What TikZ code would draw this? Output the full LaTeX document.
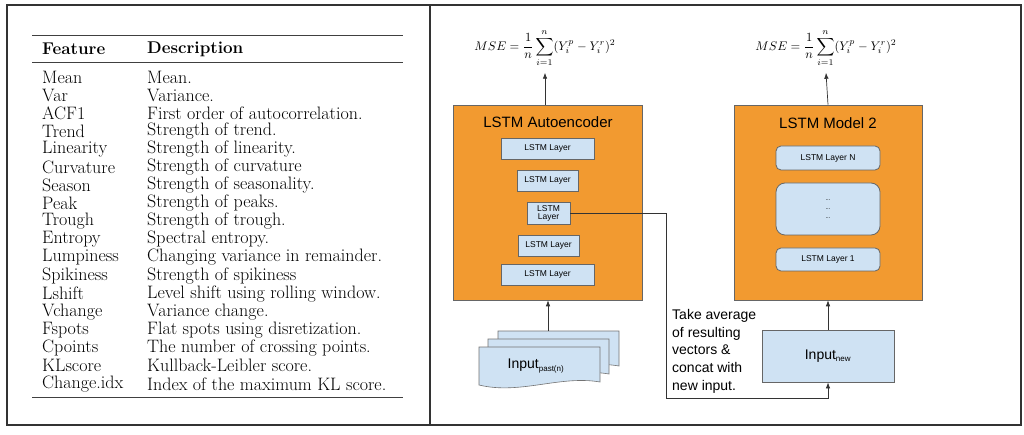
\documentclass[tikz,border=0pt]{standalone}
\usepackage{fontspec}
\newfontfamily\arial{Liberation Sans}
\usetikzlibrary{arrows.meta}
\definecolor{org}{HTML}{F29A30}
\definecolor{lb}{HTML}{CFE2F3}
\begin{document}
\begin{tikzpicture}[x=1pt,y=-1pt,
 frame/.style={draw=black!80,line width=1.2pt},
 rule/.style={draw=black!75,line width=0.9pt},
 cell/.style={anchor=west,inner sep=0pt,font=\fontsize{18}{18}\selectfont},
 obox/.style={draw=black!60,fill=org,line width=0.6pt},
 lay/.style={draw=black!60,fill=lb,line width=0.8pt,font=\arial\fontsize{8.5}{9.5}\selectfont,align=center,inner sep=0pt},
 ttl/.style={font=\arial\fontsize{15}{16}\selectfont},
 arr/.style={-{Latex[length=6pt,width=4.5pt]},draw=black!80,line width=0.7pt}]
\useasboundingbox (0,0) rectangle (1024,435);
\fill[white] (0,0) rectangle (1024,435);
\draw[frame] (7,5) rectangle (430,425);
\draw[frame] (430,5) rectangle (1021,425);
% table
\draw[rule] (32,35) -- (403,35);
\draw[rule] (32,62) -- (403,62);
\draw[rule] (32,397) -- (403,397);
\node[cell,font=\fontsize{17}{17}\selectfont] (h1) at (42,49) {\bfseries Feature};
\node[cell,font=\fontsize{17}{17}\selectfont] (h2) at (147,49) {\bfseries Description};
\foreach \f/\d [count=\i from 0] in {Mean/Mean., Var/Variance., ACF1/First order of autocorrelation., Trend/Strength of trend., Linearity/Strength of linearity., Curvature/Strength of curvature, Season/Strength of seasonality., Peak/Strength of peaks., Trough/Strength of trough., Entropy/Spectral entropy., Lumpiness/Changing variance in remainder., Spikiness/Strength of spikiness, Lshift/Level shift using rolling window., Vchange/Variance change., Fspots/Flat spots using disretization., Cpoints/The number of crossing points., KLscore/Kullback-Leibler score., Change.idx/Index of the maximum KL score.}{
 \node[cell] (f\i) at (42,{77+18.05*\i}) {\f};
 \node[cell] (d\i) at (147,{77+18.05*\i}) {\d};
}
% right panel
\node[scale=1.25] (mse1) at (545,48) {$\displaystyle MSE=\frac{1}{n}\sum_{i=1}^{n}(Y_i^p-Y_i^r)^2$};
\node[scale=1.25] (mse2) at (826,48) {$\displaystyle MSE=\frac{1}{n}\sum_{i=1}^{n}(Y_i^p-Y_i^r)^2$};
\node[obox,minimum width=189pt,minimum height=195pt,inner sep=0pt] (ae) at (547.5,202.5) {};
\node[obox,minimum width=188pt,minimum height=195pt,inner sep=0pt] (m2) at (828,202.5) {};
\node[ttl] (t1) at (548,122) {LSTM Autoencoder};
\node[ttl] (t2) at (828,123) {LSTM Model 2};
\node[lay,minimum width=93pt,minimum height=21pt] (l1) at (547.5,148.5) {LSTM Layer};
\node[lay,minimum width=61pt,minimum height=21pt] (l2) at (547.5,180.5) {LSTM Layer};
\node[lay,minimum width=43pt,minimum height=22pt] (l3) at (548.5,213) {LSTM\\[-1.5pt]Layer};
\node[lay,minimum width=61pt,minimum height=21pt] (l4) at (548.5,245.5) {LSTM Layer};
\node[lay,minimum width=93pt,minimum height=21pt] (l5) at (547.5,274.5) {LSTM Layer};
\node[lay,rounded corners=5pt,minimum width=104pt,minimum height=24pt] (n1) at (828,158) {LSTM Layer N};
\node[lay,rounded corners=9pt,minimum width=104pt,minimum height=52pt,font=\arial\fontsize{6}{9}\selectfont] (n2) at (828,209) {...\\...\\...};
\node[lay,rounded corners=5pt,minimum width=104pt,minimum height=23pt] (n3) at (828,259.5) {LSTM Layer 1};
% input stack
\foreach \dx/\dy in {19/-16,9/-8}{
 \fill[lb,draw=black!55,line width=0.6pt] (479+\dx,347+\dy) -- (600+\dx,347+\dy) -- (600+\dx,382+\dy) .. controls (560+\dx,375+\dy) and (520+\dx,395+\dy) .. (479+\dx,385+\dy) -- cycle;
}
\fill[lb,draw=black!55,line width=0.6pt] (479,347) -- (600,347) -- (600,382) .. controls (560,375) and (520,395) .. (479,385) -- cycle;
\node[font=\arial\fontsize{14}{15}\selectfont] (in1) at (536,366) {Input\textsubscript{\fontsize{8}{9}\selectfont past(n)}};
\coordinate (in1top) at (548,331);
\node[lay,minimum width=132pt,minimum height=52pt,font=\arial\fontsize{14}{15}\selectfont] (in2) at (828,356) {Input\textsubscript{\fontsize{8}{9}\selectfont new}};
\node[font=\arial\fontsize{14}{17.8}\selectfont,align=left,anchor=north west,inner sep=0pt] (txt) at (672,309) {Take average\\of resulting\\vectors \&\\concat with\\new input.};
% arrows
\draw[arr] (ae.north -| mse1) -- ([yshift=-2pt]mse1.south);
\draw[arr] (m2.north) -- ([yshift=-2pt]mse2.south);
\draw[arr] (in1top) -- (ae.south -| in1top);
\draw[arr] (in2.north) -- (m2.south);
\coordinate (c1) at (666,213);
\coordinate (c2) at (666,398);
\draw[arr] (l3.east) -- (c1) -- (c2) -- (c2 -| in2.south) -- (in2.south);
\end{tikzpicture}
\end{document}
